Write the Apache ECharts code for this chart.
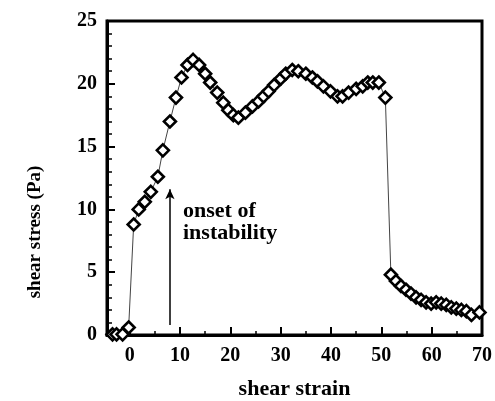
<!DOCTYPE html>
<html><head><meta charset="utf-8">
<script src="https://cdn.jsdelivr.net/npm/echarts@6/dist/echarts.min.js"></script>
<style>html,body{margin:0;padding:0;background:#fff}#c{width:495px;height:401px}</style>
</head><body><div id="c"></div>
<script>
var strain = [-3.4,-2.6,-1.4,-0.2,0.8,1.8,3.0,4.2,5.6,6.6,8.0,9.2,10.3,11.5,12.6,13.8,15.0,16.0,17.4,18.6,19.6,20.6,21.6,23.0,24.4,25.6,26.6,27.6,28.7,30.0,31.0,32.3,33.5,35.0,36.3,37.3,38.5,39.9,41.3,42.3,43.5,45.0,46.3,47.3,48.3,49.5,50.8,51.9,52.9,53.9,54.9,55.9,56.9,57.9,58.9,59.9,60.9,61.9,62.9,63.9,64.9,65.9,66.9,67.9,69.5];
var stress = [0.05,0.05,0.05,0.6,8.8,10.0,10.6,11.4,12.6,14.7,17.0,18.9,20.5,21.5,21.9,21.5,20.8,20.1,19.3,18.5,17.9,17.5,17.3,17.7,18.2,18.6,19.0,19.4,19.9,20.4,20.8,21.1,21.0,20.8,20.5,20.2,19.8,19.4,19.0,19.0,19.3,19.6,19.8,20.1,20.1,20.1,18.9,4.8,4.3,3.9,3.6,3.3,3.0,2.8,2.6,2.5,2.6,2.5,2.4,2.2,2.1,2.0,1.9,1.6,1.8];
var xMajorTicks = [0,10,20,30,40,50,60,70];
var xMinorTicks = [5,15,25,35,45,55,65];
var arrowFrom = [8, 0.8], arrowTo = [8, 11.6];
var annotation = {text: 'onset of\ninstability', at: [10.6, 9.0]};
var F = '"Liberation Serif","Times New Roman",serif';

var chart = echarts.init(document.getElementById('c'), null, {renderer:'canvas'});
var pts = strain.map(function(x,i){return [x, stress[i]];});
chart.setOption({
  animation: false,
  grid: {left: 107, right: 13, top: 21, bottom: 66, containLabel: false, outerBoundsMode: 'none',
    show: true, borderColor: '#000', borderWidth: 3, backgroundColor: 'transparent'},
  graphic: [{
    type: 'text', x: 35, y: 232, rotation: Math.PI / 2,
    style: {text: 'shear stress (Pa)', fill: '#000', font: 'bold 19px ' + F, textAlign: 'center', textVerticalAlign: 'middle'}
  }],
  xAxis: [{
    type: 'value', min: -4.5, max: 70,
    axisLine: {show: true, onZero: false, lineStyle: {color: '#000', width: 3}},
    axisTick: {show: true, inside: true, length: 8, lineStyle: {color: '#000', width: 2}, customValues: xMajorTicks},
    axisLabel: {customValues: xMajorTicks, color: '#000', fontFamily: F, fontWeight: 'bold', fontSize: 20, margin: 11},
    splitLine: {show: false},
    name: 'shear strain', nameLocation: 'middle', nameGap: 43,
    nameTextStyle: {color: '#000', fontFamily: F, fontWeight: 'bold', fontSize: 22}
  },{
    type: 'value', min: -4.5, max: 70, position: 'bottom',
    axisLine: {show: false, onZero: false},
    axisTick: {show: true, inside: true, length: 4, lineStyle: {color: '#000', width: 1.5}, customValues: xMinorTicks},
    axisLabel: {show: false}, splitLine: {show: false}
  }],
  yAxis: {
    type: 'value', min: 0, max: 25, interval: 5,
    axisLine: {show: true, onZero: false, lineStyle: {color: '#000', width: 3}},
    axisTick: {show: true, inside: true, length: 8, lineStyle: {color: '#000', width: 2}},
    minorTick: {show: true, splitNumber: 5, length: 5, lineStyle: {color: '#000', width: 1.5}},
    axisLabel: {color: '#000', fontFamily: F, fontWeight: 'bold', fontSize: 20, margin: 10},
    splitLine: {show: false}
  },
  series: [{
    type: 'line', data: pts, xAxisIndex: 0,
    symbol: 'diamond', symbolSize: 12,
    itemStyle: {color: '#fff', borderColor: '#000', borderWidth: 2.6},
    lineStyle: {color: '#444', width: 1},
    z: 3,
    markLine: {
      silent: true, symbol: ['none','arrow'], symbolSize: [7, 10],
      lineStyle: {color: '#000', width: 1.5, type: 'solid'},
      label: {show: false},
      data: [[{coord: arrowFrom}, {coord: arrowTo}]]
    },
    markPoint: {
      silent: true, symbol: 'circle', symbolSize: 0,
      label: {show: true, position: 'right', distance: 0, formatter: annotation.text, align: 'left',
        color: '#000', fontFamily: F, fontWeight: 'bold', fontSize: 22, lineHeight: 22},
      data: [{coord: annotation.at}]
    }
  }]
});
</script></body></html>
